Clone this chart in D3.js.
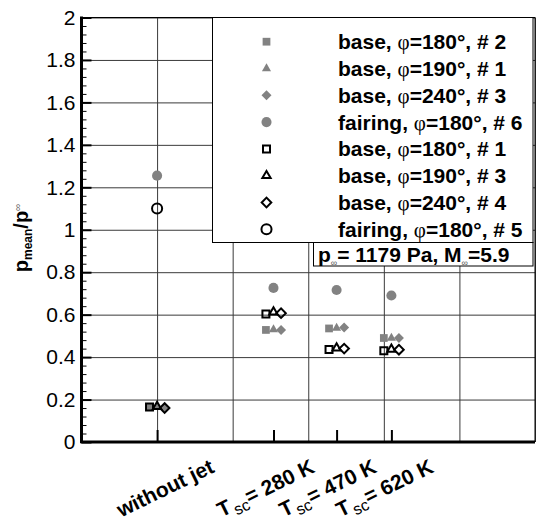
<!DOCTYPE html>
<html>
<head>
<meta charset="utf-8">
<script src="https://cdn.jsdelivr.net/npm/d3@7"></script>
<style>
  body { margin: 0; background: #fff; }
  svg { display: block; font-family: 'Liberation Sans', Arial, sans-serif; }
</style>
</head>
<body>
<svg width="536" height="524"></svg>
<script>
// ---- data ----
var xPositions = [1, 2.54, 3.375, 4.1];
var xLabelMain = ['without jet', 'T', 'T', 'T'];
var xLabelSub = ['', 'sc', 'sc', 'sc'];
var xLabelRest = ['', '= 280 K', '= 470 K', '= 620 K'];

var yTicks = [0, 0.2, 0.4, 0.6, 0.8, 1, 1.2, 1.4, 1.6, 1.8, 2];
var yTickLabels = ['0', '0.2', '0.4', '0.6', '0.8', '1', '1.2', '1.4', '1.6', '1.8', '2'];

var seriesNames = [
  'base, φ=180°, # 2', 'base, φ=190°, # 1', 'base, φ=240°, # 3', 'fairing, φ=180°, # 6',
  'base, φ=180°, # 1', 'base, φ=190°, # 3', 'base, φ=240°, # 4', 'fairing, φ=180°, # 5'
];
var base180_2 = [0.165, 0.528, 0.535, 0.49];
var base190_1 = [0.165, 0.53, 0.537, 0.49];
var base240_3 = [0.16, 0.528, 0.54, 0.49];
var fairing180_6 = [1.255, 0.726, 0.716, 0.69];
var base180_1 = [0.165, 0.603, 0.436, 0.43];
var base190_3 = [0.167, 0.612, 0.443, 0.437];
var base240_4 = [0.16, 0.607, 0.44, 0.435];
var fairing180_5 = [1.10, null, null, null];
var seriesValues = [base180_2, base190_1, base240_3, fairing180_6,
                    base180_1, base190_3, base240_4, fairing180_5];

// ---- marker styles (shape, fill, offset in x units) ----
var gray = '#828282';
var markerStyle = [
  { shape: 'square', size: 60, fill: gray, stroke: 'none', dx: -0.1 },
  { shape: 'triangle', size: 36, fill: gray, stroke: 'none', dx: 0 },
  { shape: 'diamond', size: 50, fill: gray, stroke: 'none', dx: 0.1 },
  { shape: 'circle', size: 80, fill: gray, stroke: 'none', dx: 0 },
  { shape: 'square', size: 49, fill: 'none', stroke: '#000', dx: -0.1 },
  { shape: 'triangle', size: 30, fill: 'none', stroke: '#000', dx: 0 },
  { shape: 'diamond', size: 46, fill: 'none', stroke: '#000', dx: 0.1 },
  { shape: 'circle', size: 80, fill: 'none', stroke: '#000', dx: 0 }
];
var labelNudge = [8, -8, -9, -7];

var svg = d3.select('svg');
var padding = { t: 17.5, l: 81.5, r: 535, b: 442 };

var xScale = d3.scaleLinear().domain([0, 6]).range([padding.l, padding.r]);
var yScale = d3.scaleLinear().domain([0, 2]).range([padding.b, padding.t]);

// grid lines
var gridG = svg.append('g');
gridG.append('g')
    .attr('transform', `translate(0, ${padding.b})`)
    .call(d3.axisBottom(xScale).tickValues(d3.range(1, 7)).tickSize(-(padding.b - padding.t)).tickFormat(''))
    .call(g => g.select('.domain').remove())
    .selectAll('line').attr('stroke', '#3a3a3a').attr('stroke-width', 1);
gridG.append('g')
    .attr('transform', `translate(${padding.l}, 0)`)
    .call(d3.axisLeft(yScale).tickValues(yTicks.slice(1)).tickSize(-(padding.r - padding.l)).tickFormat(''))
    .call(g => g.select('.domain').remove())
    .selectAll('line').attr('stroke', '#3a3a3a').attr('stroke-width', 1);

// markers
function symbolPath(st) {
    var type = st.shape === 'square' || st.shape === 'diamond' ? d3.symbolSquare
        : st.shape === 'triangle' ? d3.symbolTriangle : d3.symbolCircle;
    return d3.symbol().type(type).size(st.size)();
}

var markG = svg.append('g');
seriesValues.forEach(function(vals, si) {
    var st = markerStyle[si];
    var pts = vals.map((v, i) => ({ x: xPositions[i] + st.dx, y: v })).filter(d => d.y !== null);
    markG.selectAll('.s' + si)
        .data(pts)
        .enter()
        .append('path')
        .attr('class', 's' + si)
        .attr('d', symbolPath(st))
        .attr('transform', d => `translate(${xScale(d.x)}, ${yScale(d.y)})` + (st.shape === 'diamond' ? ' rotate(45)' : ''))
        .attr('fill', st.fill)
        .attr('stroke', st.stroke)
        .attr('stroke-width', 2);
});

// axes
var yAxis = svg.append('g')
    .attr('transform', `translate(${padding.l}, 0)`)
    .call(d3.axisLeft(yScale).tickValues(yTicks).tickSize(-10).tickPadding(6)
        .tickFormat((d, i) => yTickLabels[i]));
yAxis.selectAll('text').attr('font-size', 21).attr('fill', '#000')
    .attr('font-family', "'Liberation Sans', Arial, sans-serif");
yAxis.selectAll('line').attr('stroke-width', 2);
yAxis.select('.domain').remove();

var minorTicks = d3.range(0, 2.0001, 0.04).filter(v => Math.abs(v * 5 - Math.round(v * 5)) > 1e-6);
svg.append('g')
    .attr('transform', `translate(${padding.l}, 0)`)
    .call(d3.axisLeft(yScale).tickValues(minorTicks).tickSize(-5).tickFormat(''))
    .call(g => g.select('.domain').remove())
    .selectAll('line').attr('stroke-width', 1);

var xAxis = svg.append('g')
    .attr('transform', `translate(0, ${padding.b})`)
    .call(d3.axisBottom(xScale).tickValues(xPositions).tickSize(-12).tickFormat(''));
xAxis.selectAll('line').attr('stroke-width', 2);
xAxis.select('.domain').remove();

// frame
svg.append('line').attr('x1', padding.l).attr('x2', padding.r).attr('y1', padding.t).attr('y2', padding.t)
    .attr('stroke', '#000').attr('stroke-width', 1);
svg.append('line').attr('x1', padding.r).attr('x2', padding.r).attr('y1', padding.t).attr('y2', padding.b)
    .attr('stroke', '#000').attr('stroke-width', 1);
svg.append('line').attr('x1', padding.l).attr('x2', padding.l).attr('y1', padding.t - 1).attr('y2', padding.b + 1)
    .attr('stroke', '#000').attr('stroke-width', 3);
svg.append('line').attr('x1', padding.l - 1).attr('x2', padding.r).attr('y1', padding.b).attr('y2', padding.b)
    .attr('stroke', '#000').attr('stroke-width', 3);

// x labels
xPositions.forEach(function(p, i) {
    var t = svg.append('text')
        .attr('text-anchor', 'middle')
        .attr('font-size', 21)
        .attr('font-weight', 'bold')
        .attr('transform', `translate(${xScale(p) + labelNudge[i]}, 488) rotate(-26)`)
        .attr('dy', '0.35em');
    t.append('tspan').text(xLabelMain[i]);
    if (xLabelSub[i]) {
        t.append('tspan').attr('font-size', 16).attr('font-weight', 'normal').attr('dy', 5).attr('dx', 2).text(xLabelSub[i]);
        t.append('tspan').attr('dy', -5).text(xLabelRest[i]);
    }
});

// y title
var yTitle = svg.append('text')
    .attr('text-anchor', 'middle')
    .attr('font-size', 20)
    .attr('font-weight', 'bold')
    .attr('transform', 'translate(28, 238) rotate(-90)');
yTitle.append('tspan').text('p');
yTitle.append('tspan').attr('font-size', 12).attr('dy', 4).text('mean');
yTitle.append('tspan').attr('dy', -4).text('/p');
yTitle.append('tspan').attr('font-size', 10).attr('font-weight', 'normal').attr('fill', '#666').attr('dy', -7).text('∞');

// legend
var legendG = svg.append('g');
legendG.append('rect')
    .attr('x', 212.5).attr('y', padding.t).attr('width', 320.5).attr('height', 225)
    .attr('fill', '#fff').attr('stroke', '#000').attr('stroke-width', 1);
seriesNames.forEach(function(name, i) {
    var st = markerStyle[i];
    var cy = 41.7 + i * 26.8;
    legendG.append('path')
        .attr('d', symbolPath(st))
        .attr('transform', `translate(266.5, ${cy})` + (st.shape === 'diamond' ? ' rotate(45)' : ''))
        .attr('fill', st.fill)
        .attr('stroke', st.stroke)
        .attr('stroke-width', 2);
    var parts = name.split('φ');
    var lt = legendG.append('text')
        .attr('x', 338).attr('y', cy + 7.5)
        .attr('font-size', 21).attr('font-weight', 'bold');
    lt.append('tspan').text(parts[0]);
    lt.append('tspan').attr('font-family', "'Liberation Serif', serif").attr('font-weight', 'normal').text('φ');
    lt.append('tspan').text(parts[1]);
});

// condition box
legendG.append('rect')
    .attr('x', 313.5).attr('y', 242.5).attr('width', 219.5).attr('height', 23.5)
    .attr('fill', '#fff').attr('stroke', '#000').attr('stroke-width', 1);
var cond = legendG.append('text').attr('x', 318).attr('y', 262)
    .attr('font-size', 21).attr('font-weight', 'bold');
cond.append('tspan').text('p');
cond.append('tspan').attr('font-size', 9).attr('font-weight', 'normal').attr('fill', '#555').attr('dy', 4).text('∞');
cond.append('tspan').attr('dy', -4).text('= 1179 Pa, M');
cond.append('tspan').attr('font-size', 9).attr('font-weight', 'normal').attr('fill', '#555').attr('dy', 4).text('∞');
cond.append('tspan').attr('dy', -4).text('=5.9');
</script>
</body>
</html>
